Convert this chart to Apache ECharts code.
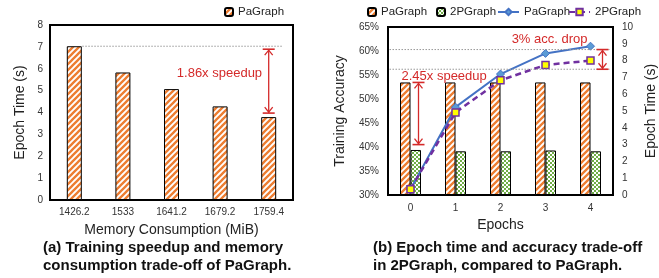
<!DOCTYPE html>
<html>
<head>
<meta charset="utf-8">
<script src="https://cdn.jsdelivr.net/npm/echarts@6/dist/echarts.min.js"></script>
<style>
  html, body { margin: 0; padding: 0; background: #fff; }
  #chart { width: 659px; height: 278px; }
</style>
</head>
<body>
<div id="chart"></div>
<script>
// (a) memory vs epoch time
const memLabels = ['1426.2', '1533', '1641.2', '1679.2', '1759.4']
const epochTimeA = [7.03, 5.83, 5.07, 4.28, 3.79]

// (b) epochs
const epochs = ['0', '1', '2', '3', '4']
const timePaGraph = [6.7, 6.7, 6.7, 6.7, 6.7]
const time2PGraph = [2.68, 2.6, 2.6, 2.65, 2.6]
const accPaGraph = [31.2, 48.3, 55.2, 59.5, 61.0]
const acc2PGraph = [31.2, 47.2, 53.9, 57.1, 58.0]

const FONT = 'Liberation Sans, Arial, sans-serif'
const ORANGE = '#ED7D31'
const GREEN = '#70AD47'
const RED = '#D42A2A'

function stripePattern () {
  const c = document.createElement('canvas')
  c.width = 6
  c.height = 6
  const g = c.getContext('2d')
  g.fillStyle = '#fff'
  g.fillRect(0, 0, 6, 6)
  g.strokeStyle = ORANGE
  g.lineWidth = 2.3
  g.beginPath()
  for (const k of [-6, 0, 6]) {
    g.moveTo(k - 1, 7)
    g.lineTo(k + 7, -1)
  }
  g.stroke()
  return { image: c, repeat: 'repeat' }
}

function checkPattern () {
  const c = document.createElement('canvas')
  c.width = 4
  c.height = 4
  const g = c.getContext('2d')
  g.fillStyle = '#fff'
  g.fillRect(0, 0, 4, 4)
  g.fillStyle = GREEN
  g.fillRect(0, 0, 2, 2)
  g.fillRect(2, 2, 2, 2)
  return { image: c, repeat: 'repeat' }
}

const stripes = stripePattern()
const checks = checkPattern()

const axisText = { color: '#333', fontSize: 10, fontFamily: FONT }
const nameText = { color: '#222', fontSize: 14, fontFamily: FONT }
const legendText = { fontSize: 11.5, color: '#222', fontFamily: FONT }
const stripName = n => n.split('#')[0]

const chart = echarts.init(document.getElementById('chart'), null, { renderer: 'canvas' })

const option = {
  animation: false,
  textStyle: { fontFamily: FONT },
  grid: [
    { left: 50, top: 25, right: 366, bottom: 78, show: true, borderColor: '#000', borderWidth: 2 },
    { left: 388, top: 27, right: 46, bottom: 83, show: true, borderColor: '#000', borderWidth: 2 }
  ],
  legend: [
    {
      data: ['PaGraph#a'], left: 219, top: 1, itemWidth: 8, itemHeight: 8,
      formatter: stripName, textStyle: legendText
    },
    {
      data: ['PaGraph#bar', '2PGraph#bar'], left: 362, top: 1, itemWidth: 8, itemHeight: 8, itemGap: 9,
      formatter: stripName, textStyle: legendText
    },
    {
      data: ['PaGraph#line', '2PGraph#line'], left: 492, top: 1, itemWidth: 21, itemHeight: 8, itemGap: -2,
      formatter: stripName, textStyle: legendText
    }
  ],
  xAxis: [
    {
      type: 'category', gridIndex: 0, data: memLabels,
      axisTick: { show: false }, axisLine: { lineStyle: { color: '#000', width: 2 } },
      axisLabel: { ...axisText, margin: 7 },
      name: 'Memory Consumption (MiB)', nameLocation: 'middle', nameGap: 23, nameTextStyle: nameText
    },
    {
      type: 'category', gridIndex: 1, data: epochs,
      axisTick: { show: false }, axisLine: { lineStyle: { color: '#000', width: 2 } },
      axisLabel: { ...axisText, margin: 8 },
      name: 'Epochs', nameLocation: 'middle', nameGap: 22, nameTextStyle: nameText
    }
  ],
  yAxis: [
    {
      type: 'value', gridIndex: 0, min: 0, max: 8, interval: 1,
      splitLine: { show: false }, axisTick: { show: false },
      axisLine: { show: true, lineStyle: { color: '#000', width: 2 } },
      axisLabel: { ...axisText, margin: 7 },
      name: 'Epoch Time (s)', nameLocation: 'middle', nameGap: 23, nameTextStyle: nameText
    },
    {
      type: 'value', gridIndex: 1, min: 30, max: 65, interval: 5,
      splitLine: { show: false }, axisTick: { show: false },
      axisLine: { show: true, lineStyle: { color: '#000', width: 2 } },
      axisLabel: { ...axisText, margin: 9, formatter: '{value}%' },
      name: 'Training Accuracy', nameLocation: 'middle', nameGap: 41, nameTextStyle: nameText
    },
    {
      type: 'value', gridIndex: 1, position: 'right', min: 0, max: 10, interval: 1,
      splitLine: { show: false }, axisTick: { show: false },
      axisLine: { show: true, lineStyle: { color: '#000', width: 2 } },
      axisLabel: { ...axisText, margin: 9 },
      name: 'Epoch Time (s)', nameLocation: 'middle', nameGap: 31, nameRotate: 90,
      nameTextStyle: nameText
    }
  ],
  series: [
    {
      name: 'PaGraph#a', type: 'bar', xAxisIndex: 0, yAxisIndex: 0, data: epochTimeA, barWidth: 15,
      itemStyle: { color: stripes, borderColor: '#000', borderWidth: 1 }
    },
    {
      name: 'PaGraph#bar', type: 'bar', xAxisIndex: 1, yAxisIndex: 2, data: timePaGraph,
      barWidth: 10.5, barGap: '0%',
      itemStyle: { color: stripes, borderColor: '#000', borderWidth: 1 }
    },
    {
      name: '2PGraph#bar', type: 'bar', xAxisIndex: 1, yAxisIndex: 2, data: time2PGraph,
      barWidth: 10.5, barGap: '0%',
      itemStyle: { color: checks, borderColor: '#000', borderWidth: 1 }
    },
    {
      name: 'PaGraph#line', type: 'line', xAxisIndex: 1, yAxisIndex: 1, data: accPaGraph,
      symbol: 'diamond', symbolSize: 8, z: 5,
      lineStyle: { color: '#4472C4', width: 2 },
      itemStyle: { color: '#5B9BD5', borderColor: '#4472C4', borderWidth: 1 }
    },
    {
      name: '2PGraph#line', type: 'line', xAxisIndex: 1, yAxisIndex: 1, data: acc2PGraph,
      symbol: 'rect', symbolSize: 7, z: 6,
      lineStyle: { color: '#7030A0', width: 2.5, type: [6, 4] },
      itemStyle: { color: '#FFFF00', borderColor: '#7030A0', borderWidth: 1.5 }
    }
  ]
}

chart.setOption(option)

// annotations placed through the axes
const P = (xi, yi, x, y) => chart.convertToPixel({ xAxisIndex: xi, yAxisIndex: yi }, [x, y])

function vArrow (x, y1, y2) {
  const s = { stroke: RED, lineWidth: 1.3 }
  return [
    { type: 'line', shape: { x1: x, y1: y1, x2: x, y2: y2 }, style: s, z: 20 },
    { type: 'line', shape: { x1: x - 6, y1: y1, x2: x + 6, y2: y1 }, style: { stroke: RED, lineWidth: 1.6 }, z: 20 },
    { type: 'line', shape: { x1: x - 6, y1: y2, x2: x + 6, y2: y2 }, style: { stroke: RED, lineWidth: 1.6 }, z: 20 },
    { type: 'polyline', shape: { points: [[x - 4, y1 + 6], [x, y1 + 1], [x + 4, y1 + 6]] }, style: s, z: 20 },
    { type: 'polyline', shape: { points: [[x - 4, y2 - 6], [x, y2 - 1], [x + 4, y2 - 6]] }, style: s, z: 20 }
  ]
}

function hDots (x1, x2, y) {
  return { type: 'line', shape: { x1: x1, y1: y, x2: x2, y2: y }, style: { stroke: '#999', lineWidth: 1, lineDash: [1.5, 1.5] }, z: 15 }
}

function label (text, x, y, align) {
  return {
    type: 'text', x: x, y: y, z: 20,
    style: { text: text, fill: RED, font: '13px ' + FONT, align: align, verticalAlign: 'middle' }
  }
}

function caption (text, x, y) {
  return {
    type: 'text', x: x, y: y,
    style: { text: text, fill: '#111', font: 'bold 15px ' + FONT, align: 'left', verticalAlign: 'middle' }
  }
}

const a7 = P(0, 0, 0, epochTimeA[0])
const aLast = P(0, 0, 4, epochTimeA[4])
const aMid = P(0, 0, 3, 5.8)
const bTop = P(1, 2, 0, timePaGraph[0])
const bLow = P(1, 2, 0, 3.0)
const bTxt = P(1, 2, 0, 7.05)
const acc1 = P(1, 1, 4, 60.3)
const acc2 = P(1, 1, 4, 56.2)
const accTxt = P(1, 1, 4, 62.4)
const leftB = P(1, 1, 0, 60)[0] - 22

const graphic = [
  hDots(a7[0] + 8, aLast[0] + 14, a7[1]),
  ...vArrow(aLast[0], a7[1] + 3, aLast[1] - 4),
  label('1.86x speedup', aMid[0] + 42, aMid[1], 'right'),

  hDots(leftB + 1, acc1[0] + 19, acc1[1]),
  hDots(leftB + 1, acc2[0] + 19, acc2[1]),
  ...vArrow(acc1[0] + 12, acc1[1], acc2[1]),
  label('3% acc. drop', acc1[0] - 3, accTxt[1], 'right'),

  ...vArrow(bTop[0] + 8, bTop[1], bLow[1]),
  label('2.45x speedup', bTxt[0] - 9, bTxt[1], 'left'),

  caption('(a) Training speedup and memory', 43, 248),
  caption('consumption trade-off of PaGraph.', 43, 266),
  caption('(b) Epoch time and accuracy trade-off', 373, 248),
  caption('in 2PGraph, compared to PaGraph.', 373, 266)
]

chart.setOption({ graphic: graphic })
</script>
</body>
</html>
